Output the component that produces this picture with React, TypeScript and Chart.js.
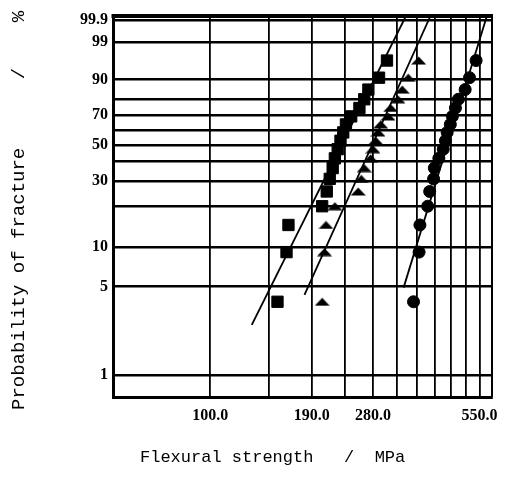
import React, { useEffect, useRef } from "react";
import { Chart, registerables } from "chart.js";

Chart.register(...registerables);

// Probability of fracture (%) for the ranked specimens (same ranks for all three series)
const probabilityPct = [3.8, 9.2, 14.7, 20.1, 25.5, 31.0, 36.4, 41.8, 47.3, 52.7, 58.2, 63.6, 69.0, 74.5, 79.9, 85.3, 90.8, 96.2];

// Flexural strength (MPa)
const squareStrength = [153, 162, 164, 203, 209, 213, 217, 220, 224, 228, 232, 236, 244, 257, 265, 272, 291, 306];
const triangleStrength = [203, 206, 208, 220, 255, 260, 265, 276, 280, 285, 289, 294, 308, 313, 328, 337, 350, 374];
const circleStrength = [362, 375, 377, 396, 401, 411, 413, 425, 437, 443, 448, 457, 463, 472, 481, 502, 516, 538];

// Fitted Weibull lines (end points: strength MPa, probability %)
const squareFitStrength = [130, 345];
const squareFitPct = [2.5, 99.94];
const triangleFitStrength = [181.5, 403];
const triangleFitPct = [4.3, 99.94];
const circleFitStrength = [340, 576];
const circleFitPct = [4.9, 99.94];

// Axes
const xAxisMin = 54;
const xAxisMax = 595;
const xGridValues = [100, 145, 190, 235, 280, 325, 370, 415, 460, 505, 550, 595];
const xTickLabels = ["100.0", "190.0", "280.0", "550.0"];
const yAxisMinPct = 0.67;
const yAxisMaxPct = 99.94;
const yGridPct = [1, 5, 10, 20, 30, 40, 50, 60, 70, 80, 90, 99, 99.9];
const yTickLabels = ["1", "5", "10", "30", "50", "70", "90", "99", "99.9"];

const xTitle = "Flexural strength   /  MPa";
const yTitle = "Probability of fracture      /    %";

const weibull = (pct: number) => Math.log(-Math.log(1 - pct / 100));

export default function App() {
  const ref = useRef<HTMLCanvasElement | null>(null);

  useEffect(() => {
    const canvas = ref.current;
    if (!canvas) return;

    const tri = document.createElement("canvas");
    tri.width = 15;
    tri.height = 9;
    const tctx = tri.getContext("2d")!;
    tctx.fillStyle = "#000";
    tctx.beginPath();
    tctx.moveTo(7.5, 0.5);
    tctx.lineTo(15, 8.5);
    tctx.lineTo(0, 8.5);
    tctx.closePath();
    tctx.fill();

    const pts = (xs: number[]) => xs.map((x, i) => ({ x, y: weibull(probabilityPct[i]) }));
    const fit = (xs: number[], ps: number[]) => xs.map((x, i) => ({ x, y: weibull(ps[i]) }));

    const framePlugin = {
      id: "frame",
      afterDraw(chart: any) {
        const { ctx, chartArea: a } = chart;
        ctx.save();
        ctx.strokeStyle = "#000";
        ctx.lineWidth = 4;
        ctx.beginPath();
        ctx.moveTo(a.left - 1.5, a.top);
        ctx.lineTo(a.right + 1, a.top);
        ctx.stroke();
        ctx.lineWidth = 2;
        ctx.beginPath();
        ctx.moveTo(a.right, a.top);
        ctx.lineTo(a.right, a.bottom);
        ctx.stroke();

        ctx.fillStyle = "#000";
        ctx.textBaseline = "middle";
        ctx.textAlign = "left";
        ctx.font = '17px "Liberation Mono", monospace';
        ctx.fillText(xTitle, 140, 457);
        ctx.translate(19, 410);
        ctx.rotate(-Math.PI / 2);
        ctx.font = '19px "Liberation Mono", monospace';
        ctx.fillText(yTitle, 0, 0);
        ctx.restore();
      },
    };

    const tickFont = { family: '"Liberation Serif", serif', weight: "bold" as const, size: 16 };

    const chart = new Chart(canvas, {
      type: "scatter",
      data: {
        datasets: [
          {
            label: "squares",
            data: pts(squareStrength),
            pointStyle: "rect",
            pointRadius: 8,
            backgroundColor: "#000",
            borderColor: "#000",
            borderWidth: 1,
          },
          {
            label: "triangles",
            data: pts(triangleStrength),
            pointStyle: tri as any,
            pointRadius: 7,
            backgroundColor: "#000",
            borderColor: "#000",
          },
          {
            label: "circles",
            data: pts(circleStrength),
            pointStyle: "circle",
            pointRadius: 6,
            backgroundColor: "#000",
            borderColor: "#000",
            borderWidth: 1,
          },
          {
            label: "squares fit",
            data: fit(squareFitStrength, squareFitPct),
            showLine: true,
            pointRadius: 0,
            borderColor: "#000",
            borderWidth: 1.8,
          },
          {
            label: "triangles fit",
            data: fit(triangleFitStrength, triangleFitPct),
            showLine: true,
            pointRadius: 0,
            borderColor: "#000",
            borderWidth: 1.8,
          },
          {
            label: "circles fit",
            data: fit(circleFitStrength, circleFitPct),
            showLine: true,
            pointRadius: 0,
            borderColor: "#000",
            borderWidth: 1.8,
          },
        ],
      },
      options: {
        responsive: false,
        animation: false,
        layout: { padding: { left: 0, right: 14, top: 16, bottom: 0 } },
        plugins: {
          legend: { display: false },
          tooltip: { enabled: false },
        },
        scales: {
          x: {
            type: "logarithmic",
            min: xAxisMin,
            max: xAxisMax,
            afterFit: (s: any) => {
              s.height = 82;
            },
            afterBuildTicks: (s: any) => {
              s.ticks = xGridValues.map((v) => ({ value: v }));
            },
            ticks: {
              autoSkip: false,
              maxRotation: 0,
              minRotation: 0,
              padding: 9,
              color: "#000",
              font: tickFont,
              callback: (_v: any, i: number) => {
                const lbl = xGridValues[i].toFixed(1);
                return xTickLabels.includes(lbl) ? lbl : "";
              },
            },
            grid: { color: "#000", lineWidth: 1.8, drawTicks: false },
            border: { color: "#000", width: 3 },
          },
          y: {
            type: "linear",
            min: weibull(yAxisMinPct),
            max: weibull(yAxisMaxPct),
            afterFit: (s: any) => {
              s.width = 113;
            },
            afterBuildTicks: (s: any) => {
              s.ticks = yGridPct.map((p) => ({ value: weibull(p) }));
            },
            ticks: {
              autoSkip: false,
              padding: 5,
              color: "#000",
              font: tickFont,
              callback: (_v: any, i: number) => {
                const lbl = String(yGridPct[i]);
                return yTickLabels.includes(lbl) ? lbl : "";
              },
            },
            grid: { color: "#000", lineWidth: 2.4, drawTicks: false },
            border: { color: "#000", width: 3 },
          },
        },
      },
      plugins: [framePlugin],
    });

    return () => chart.destroy();
  }, []);

  return (
    <div style={{ position: "absolute", left: 0, top: 0, width: 506, height: 479, background: "#fff" }}>
      <canvas ref={ref} width={506} height={479} />
    </div>
  );
}
